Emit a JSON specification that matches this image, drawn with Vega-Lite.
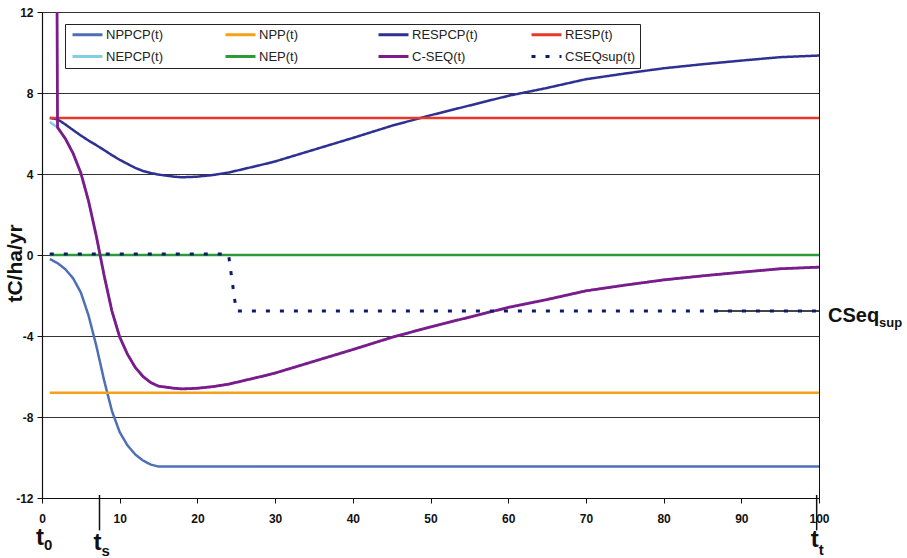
{
  "$schema": "https://vega.github.io/schema/vega-lite/v6.json",
  "width": 777,
  "height": 486,
  "autosize": {"type": "none"},
  "padding": {"left": 42, "top": 12, "right": 88, "bottom": 60},
  "background": "white",
  "config": {
    "view": {"stroke": "#111", "strokeWidth": 1},
    "font": "Liberation Sans",
    "axis": {
      "domainColor": "#111", "domainWidth": 1.2, "tickColor": "#111", "tickSize": 5,
      "labelFont": "Liberation Sans", "labelFontWeight": "bold", "labelFontSize": 12, "labelColor": "#111",
      "titleFont": "Liberation Sans", "titleFontWeight": "bold", "titleColor": "#111",
      "labelFlush": false, "labelOverlap": false
    },
    "legend": {
      "orient": "none", "legendX": 23, "legendY": 12, "direction": "horizontal", "columns": 4,
      "gridAlign": "all", "columnPadding": 42, "rowPadding": 8, "padding": 4,
      "strokeColor": "#222", "fillColor": "white",
      "symbolType": "M-3,0H3", "symbolSize": 100, "symbolStrokeWidth": 3, "symbolOffset": 12,
      "labelOffset": 12, "labelFont": "Liberation Sans", "labelFontSize": 13, "labelColor": "#222", "labelLimit": 300
    }
  },
  "data": {"values": [
    {"s":"NPPCP","t":1,"v":-0.2},{"s":"NPPCP","t":2,"v":-0.4},{"s":"NPPCP","t":3,"v":-0.7},{"s":"NPPCP","t":4,"v":-1.15},{"s":"NPPCP","t":5,"v":-1.85},{"s":"NPPCP","t":6,"v":-3.0},{"s":"NPPCP","t":7,"v":-4.5},{"s":"NPPCP","t":8,"v":-6.2},{"s":"NPPCP","t":9,"v":-7.7},{"s":"NPPCP","t":10,"v":-8.75},{"s":"NPPCP","t":11,"v":-9.4},{"s":"NPPCP","t":12,"v":-9.85},{"s":"NPPCP","t":13,"v":-10.15},{"s":"NPPCP","t":14,"v":-10.35},{"s":"NPPCP","t":15,"v":-10.45},{"s":"NPPCP","t":100,"v":-10.45},
    {"s":"NPP","t":1,"v":-6.8},{"s":"NPP","t":100,"v":-6.8},
    {"s":"RESPCP","t":1,"v":6.77},{"s":"RESPCP","t":2,"v":6.7},{"s":"RESPCP","t":3,"v":6.45},{"s":"RESPCP","t":4,"v":6.17},{"s":"RESPCP","t":5,"v":5.9},{"s":"RESPCP","t":6,"v":5.65},{"s":"RESPCP","t":7,"v":5.42},{"s":"RESPCP","t":8,"v":5.18},{"s":"RESPCP","t":9,"v":4.93},{"s":"RESPCP","t":10,"v":4.7},{"s":"RESPCP","t":11,"v":4.5},{"s":"RESPCP","t":12,"v":4.3},{"s":"RESPCP","t":13,"v":4.15},{"s":"RESPCP","t":14,"v":4.05},{"s":"RESPCP","t":15,"v":3.97},{"s":"RESPCP","t":16,"v":3.92},{"s":"RESPCP","t":17,"v":3.87},{"s":"RESPCP","t":18,"v":3.84},{"s":"RESPCP","t":19,"v":3.85},{"s":"RESPCP","t":20,"v":3.87},{"s":"RESPCP","t":22,"v":3.95},{"s":"RESPCP","t":24,"v":4.07},{"s":"RESPCP","t":26,"v":4.25},{"s":"RESPCP","t":28,"v":4.43},{"s":"RESPCP","t":30,"v":4.62},{"s":"RESPCP","t":35,"v":5.2},{"s":"RESPCP","t":40,"v":5.78},{"s":"RESPCP","t":45,"v":6.38},{"s":"RESPCP","t":50,"v":6.9},{"s":"RESPCP","t":55,"v":7.38},{"s":"RESPCP","t":60,"v":7.86},{"s":"RESPCP","t":65,"v":8.25},{"s":"RESPCP","t":70,"v":8.68},{"s":"RESPCP","t":75,"v":8.96},{"s":"RESPCP","t":80,"v":9.22},{"s":"RESPCP","t":85,"v":9.42},{"s":"RESPCP","t":90,"v":9.6},{"s":"RESPCP","t":95,"v":9.77},{"s":"RESPCP","t":100,"v":9.85},
    {"s":"RESP","t":1,"v":6.77},{"s":"RESP","t":100,"v":6.77},
    {"s":"NEPCP","t":1,"v":6.57},{"s":"NEPCP","t":2,"v":6.3},{"s":"NEPCP","t":3,"v":5.75},{"s":"NEPCP","t":4,"v":5.02},{"s":"NEPCP","t":5,"v":4.05},{"s":"NEPCP","t":6,"v":2.65},{"s":"NEPCP","t":7,"v":0.92},{"s":"NEPCP","t":8,"v":-1.02},{"s":"NEPCP","t":9,"v":-2.77},{"s":"NEPCP","t":10,"v":-4.05},{"s":"NEPCP","t":11,"v":-4.9},{"s":"NEPCP","t":12,"v":-5.55},{"s":"NEPCP","t":13,"v":-6.0},{"s":"NEPCP","t":14,"v":-6.3},{"s":"NEPCP","t":15,"v":-6.48},{"s":"NEPCP","t":16,"v":-6.53},{"s":"NEPCP","t":17,"v":-6.58},{"s":"NEPCP","t":18,"v":-6.61},{"s":"NEPCP","t":19,"v":-6.6},{"s":"NEPCP","t":20,"v":-6.58},{"s":"NEPCP","t":22,"v":-6.5},{"s":"NEPCP","t":24,"v":-6.38},{"s":"NEPCP","t":26,"v":-6.2},{"s":"NEPCP","t":28,"v":-6.02},{"s":"NEPCP","t":30,"v":-5.83},{"s":"NEPCP","t":35,"v":-5.25},{"s":"NEPCP","t":40,"v":-4.67},{"s":"NEPCP","t":45,"v":-4.07},{"s":"NEPCP","t":50,"v":-3.55},{"s":"NEPCP","t":55,"v":-3.07},{"s":"NEPCP","t":60,"v":-2.59},{"s":"NEPCP","t":65,"v":-2.2},{"s":"NEPCP","t":70,"v":-1.77},{"s":"NEPCP","t":75,"v":-1.49},{"s":"NEPCP","t":80,"v":-1.23},{"s":"NEPCP","t":85,"v":-1.03},{"s":"NEPCP","t":90,"v":-0.85},{"s":"NEPCP","t":95,"v":-0.68},{"s":"NEPCP","t":100,"v":-0.6},
    {"s":"NEP","t":1,"v":0},{"s":"NEP","t":100,"v":0},
    {"s":"C-SEQ","t":1,"v":100},{"s":"C-SEQ","t":2,"v":6.3},{"s":"C-SEQ","t":3,"v":5.75},{"s":"C-SEQ","t":4,"v":5.02},{"s":"C-SEQ","t":5,"v":4.05},{"s":"C-SEQ","t":6,"v":2.65},{"s":"C-SEQ","t":7,"v":0.92},{"s":"C-SEQ","t":8,"v":-1.02},{"s":"C-SEQ","t":9,"v":-2.77},{"s":"C-SEQ","t":10,"v":-4.05},{"s":"C-SEQ","t":11,"v":-4.9},{"s":"C-SEQ","t":12,"v":-5.55},{"s":"C-SEQ","t":13,"v":-6.0},{"s":"C-SEQ","t":14,"v":-6.3},{"s":"C-SEQ","t":15,"v":-6.48},{"s":"C-SEQ","t":16,"v":-6.53},{"s":"C-SEQ","t":17,"v":-6.58},{"s":"C-SEQ","t":18,"v":-6.61},{"s":"C-SEQ","t":19,"v":-6.6},{"s":"C-SEQ","t":20,"v":-6.58},{"s":"C-SEQ","t":22,"v":-6.5},{"s":"C-SEQ","t":24,"v":-6.38},{"s":"C-SEQ","t":26,"v":-6.2},{"s":"C-SEQ","t":28,"v":-6.02},{"s":"C-SEQ","t":30,"v":-5.83},{"s":"C-SEQ","t":35,"v":-5.25},{"s":"C-SEQ","t":40,"v":-4.67},{"s":"C-SEQ","t":45,"v":-4.07},{"s":"C-SEQ","t":50,"v":-3.55},{"s":"C-SEQ","t":55,"v":-3.07},{"s":"C-SEQ","t":60,"v":-2.59},{"s":"C-SEQ","t":65,"v":-2.2},{"s":"C-SEQ","t":70,"v":-1.77},{"s":"C-SEQ","t":75,"v":-1.49},{"s":"C-SEQ","t":80,"v":-1.23},{"s":"C-SEQ","t":85,"v":-1.03},{"s":"C-SEQ","t":90,"v":-0.85},{"s":"C-SEQ","t":95,"v":-0.68},{"s":"C-SEQ","t":100,"v":-0.6},
    {"s":"CSEQsup","t":1,"v":0.05},{"s":"CSEQsup","t":24,"v":0.05},{"s":"CSEQsup","t":25,"v":-2.77},{"s":"CSEQsup","t":100,"v":-2.77}
  ]},
  "encoding": {
    "x": {"field": "t", "type": "quantitative", "scale": {"domain": [0, 100], "nice": false, "zero": false},
          "axis": {"title": null, "values": [0,10,20,30,40,50,60,70,80,90,100], "grid": false, "labelPadding": 10}},
    "y": {"field": "v", "type": "quantitative", "scale": {"domain": [-12, 12], "nice": false},
          "axis": {"title": "tC/ha/yr", "values": [-12,-8,-4,0,4,8,12], "grid": true, "gridColor": "#333", "gridWidth": 1,
                   "labelPadding": 4, "labelExpr": "datum.value < 0 ? '-' + abs(datum.value) : '' + datum.value",
                   "titleFontSize": 21, "titleX": -21, "titleY": 251, "titleAngle": -90,
                   "titleAlign": "center", "titleBaseline": "alphabetic"}}
  },
  "layer": [
    {
      "transform": [{"filter": {"field": "s", "oneOf": ["NPPCP", "NPP", "RESPCP", "RESP"]}}],
      "mark": {"type": "line", "clip": true, "strokeWidth": 2.5},
      "encoding": {
        "color": {"field": "s", "type": "nominal",
          "scale": {"domain": ["NPPCP", "NPP", "RESPCP", "RESP", "NEPCP", "NEP", "C-SEQ", "CSEQsup"],
                    "range": ["#4e6fb6", "#f5a01a", "#2e3192", "#e8372b", "#7ecfe3", "#2c9a3b", "#7d1a8c", "#0e1a6a"]},
          "legend": {"title": null, "labelExpr": "datum.label + '(t)'"}},
        "strokeDash": {"field": "s", "type": "nominal",
          "scale": {"domain": ["NPPCP", "NPP", "RESPCP", "RESP", "NEPCP", "NEP", "C-SEQ", "CSEQsup"],
                    "range": [[1,0],[1,0],[1,0],[1,0],[1,0],[1,0],[1,0],[4,10]]},
          "legend": {"title": null, "labelExpr": "datum.label + '(t)'"}}
      }
    },
    {
      "transform": [{"filter": {"field": "s", "oneOf": ["NEPCP", "NEP"]}}],
      "mark": {"type": "line", "clip": true, "strokeWidth": 2.5},
      "encoding": {
        "color": {"field": "s", "type": "nominal"},
        "strokeDash": {"field": "s", "type": "nominal"}
      }
    },
    {
      "transform": [{"filter": {"field": "s", "equal": "C-SEQ"}}],
      "mark": {"type": "line", "clip": true, "strokeWidth": 2.8},
      "encoding": {
        "color": {"field": "s", "type": "nominal"},
        "strokeDash": {"field": "s", "type": "nominal"}
      }
    },
    {
      "data": {"values": [{"t": 86.6, "t2": 100, "v": -2.77}]},
      "mark": {"type": "rule", "color": "#444", "strokeWidth": 2},
      "encoding": {"x2": {"field": "t2"}}
    },
    {
      "transform": [{"filter": {"field": "s", "equal": "CSEQsup"}}],
      "mark": {"type": "line", "clip": true, "strokeWidth": 3},
      "encoding": {
        "color": {"field": "s", "type": "nominal"},
        "strokeDash": {"field": "s", "type": "nominal"}
      }
    },
    {
      "data": {"values": [{"t": 7.4, "v": -11.85, "v2": -13.6}, {"t": 99.7, "v": -11.85, "v2": -13.6}]},
      "mark": {"type": "rule", "color": "#111", "strokeWidth": 1.5},
      "encoding": {"y2": {"field": "v2"}}
    },
    {
      "data": {"values": [{"t": 0, "v": -14.3}, {"t": 7.4, "v": -14.55}, {"t": 99.7, "v": -14.4}]},
      "mark": {"type": "text", "text": "t", "fontSize": 24, "fontWeight": "bold", "font": "Liberation Sans", "color": "#111", "align": "center", "baseline": "alphabetic", "dx": -2}
    },
    {
      "data": {"values": [{"t": 0, "v": -14.57, "label": "0"}, {"t": 7.4, "v": -14.85, "label": "s"}, {"t": 99.7, "v": -14.82, "label": "t"}]},
      "mark": {"type": "text", "fontSize": 15, "fontWeight": "bold", "font": "Liberation Sans", "color": "#111", "align": "left", "baseline": "alphabetic", "dx": 2},
      "encoding": {"text": {"field": "label"}}
    },
    {
      "data": {"values": [{"t": 100, "v": -3.31, "label": "CSeq"}]},
      "mark": {"type": "text", "fontSize": 20, "fontWeight": "bold", "font": "Liberation Sans", "color": "#111", "align": "left", "baseline": "alphabetic", "dx": 9},
      "encoding": {"text": {"field": "label"}}
    },
    {
      "data": {"values": [{"t": 100, "v": -3.56, "label": "sup"}]},
      "mark": {"type": "text", "fontSize": 13, "fontWeight": "bold", "font": "Liberation Sans", "color": "#111", "align": "left", "baseline": "alphabetic", "dx": 60},
      "encoding": {"text": {"field": "label"}}
    }
  ]
}
